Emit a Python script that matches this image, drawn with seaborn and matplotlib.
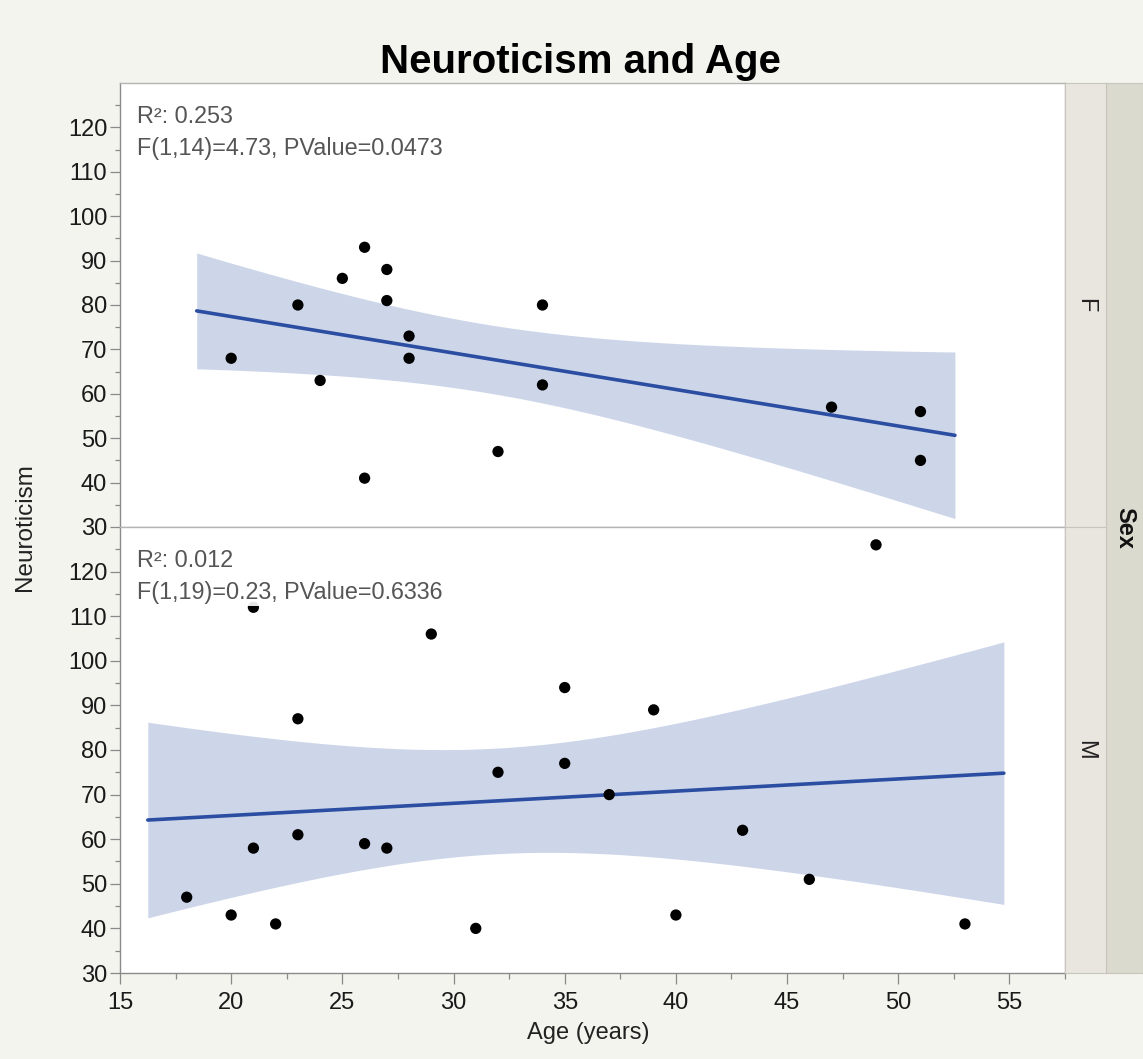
import numpy as np
import pandas as pd
import matplotlib
matplotlib.use("Agg")
import matplotlib.pyplot as plt
import seaborn as sns

# values
female_age = [20, 23, 24, 25, 26, 26, 27, 27, 28, 28, 32, 34, 34, 47, 51, 51]
female_neuro = [68, 80, 63, 86, 93, 41, 88, 81, 73, 68, 47, 80, 62, 57, 56, 45]
male_age = [18, 20, 21, 21, 22, 23, 23, 26, 27, 29, 31, 32, 35, 35, 37, 39, 40, 43, 46, 49, 53]
male_neuro = [47, 43, 112, 58, 41, 87, 61, 59, 58, 106, 40, 75, 94, 77, 70, 89, 43, 62, 51, 126, 41]

sexes = ["F", "M"]
stats_f = ["R²: 0.253", "F(1,14)=4.73, PValue=0.0473"]
stats_m = ["R²: 0.012", "F(1,19)=0.23, PValue=0.6336"]
t_crit = [2.1448, 2.0930]  # t(0.975) for df 14 and 19

y_ticks = list(range(30, 121, 10))
x_ticks = list(range(15, 56, 5))

df = pd.DataFrame({
    "Age": female_age + male_age,
    "Neuroticism": female_neuro + male_neuro,
    "Sex": ["F"] * len(female_age) + ["M"] * len(male_age),
})

sns.set_style("white")
plt.rcParams["font.family"] = ["Liberation Sans", "DejaVu Sans"]

BG = "#f4f4ee"
BAND = "#cdd6e9"
LINE = "#2b4ea2"
EDGE = "#b4b4b4"
W, H = 1143, 1059


def rect(x0, y0, x1, y1):
    """pixel box (top-left origin) -> figure fraction"""
    return [x0 / W, 1 - y1 / H, (x1 - x0) / W, (y1 - y0) / H]


def fit_band(x, y, t):
    """linear fit with the confidence band of the mean, padded 5% like JMP"""
    x = np.asarray(x, float)
    y = np.asarray(y, float)
    n = len(x)
    slope, icpt = np.polyfit(x, y, 1)
    pad = 0.05 * (x.max() - x.min())
    grid = np.linspace(x.min() - pad, x.max() + pad, 200)
    pred = icpt + slope * grid
    s = np.sqrt(np.sum((y - (icpt + slope * x)) ** 2) / (n - 2))
    sxx = np.sum((x - x.mean()) ** 2)
    half = t * s * np.sqrt(1 / n + (grid - x.mean()) ** 2 / sxx)
    return grid, pred, pred - half, pred + half


fig = plt.figure(figsize=(W / 100, H / 100), dpi=100, facecolor=BG)

panel_px = [(83, 527), (527, 973)]
ax_f = fig.add_axes(rect(120, 83, 1065, 527))
ax_m = fig.add_axes(rect(120, 527, 1065, 973), sharex=ax_f)
axes = [ax_f, ax_m]

for ax, sex, stats, t, (top, bottom) in zip(axes, sexes, [stats_f, stats_m], t_crit, panel_px):
    sub = df[df["Sex"] == sex]
    grid, pred, lo, hi = fit_band(sub["Age"], sub["Neuroticism"], t)
    ax.set_facecolor("white")
    ax.fill_between(grid, lo, hi, color=BAND, lw=0, zorder=1)
    sns.lineplot(x=grid, y=pred, ax=ax, color=LINE, lw=2.6, zorder=2)
    sns.scatterplot(data=sub, x="Age", y="Neuroticism", ax=ax, color="black",
                    s=66, edgecolor="none", zorder=3)
    ax.set_xlim(15, 57.5)
    ax.set_ylim(30, 130)
    ax.set_yticks(y_ticks)
    ax.set_yticks(np.arange(35, 126, 10), minor=True)
    ax.set_xlabel("")
    ax.set_ylabel("")
    ax.tick_params(axis="y", which="major", direction="out", length=7.2, width=0.9,
                   color="#8a8a8a", labelsize=17, labelcolor="#1a1a1a", pad=2, left=True)
    ax.tick_params(axis="y", which="minor", direction="out", length=3.6, width=0.9,
                   color="#8a8a8a", left=True)
    for sp in ax.spines.values():
        sp.set_color(EDGE)
        sp.set_linewidth(1.0)
    ax.spines["left"].set_color("#8a8a8a")
    for i, line in enumerate(stats):
        fig.text(137 / W, 1 - (top + 40 + 31.5 * i) / H, line, fontsize=16.8,
                 color="#555555", va="baseline", ha="left", zorder=5,
                 bbox=dict(boxstyle="square,pad=0.12", fc="white", ec="none", alpha=0.9))

ax_f.tick_params(axis="x", which="both", bottom=False, labelbottom=False)
ax_m.set_xticks(x_ticks)
ax_m.set_xticks(np.arange(17.5, 58, 5), minor=True)
ax_m.tick_params(axis="x", which="major", direction="out", length=8, width=0.9,
                 color="#8a8a8a", labelsize=17, labelcolor="#1a1a1a", pad=6, bottom=True)
ax_m.tick_params(axis="x", which="minor", direction="out", length=4.3, width=0.9,
                 color="#8a8a8a", bottom=True)
ax_m.spines["bottom"].set_color("#8a8a8a")

# facet strips on the right
for sex, (top, bottom) in zip(sexes, panel_px):
    sax = fig.add_axes(rect(1065, top, 1106, bottom))
    sax.set_facecolor("#e8e6de")
    sax.set_xticks([])
    sax.set_yticks([])
    for sp in sax.spines.values():
        sp.set_color("#c8c6bc")
    sax.text(0.5, 0.5, sex, rotation=-90, ha="center", va="center", fontsize=17,
             color="#222222", transform=sax.transAxes)

outer = fig.add_axes(rect(1106, 83, 1143, 973))
outer.set_facecolor("#dbdacf")
outer.set_xticks([])
outer.set_yticks([])
for sp in outer.spines.values():
    sp.set_color("#c8c6bc")
outer.text(0.5, 0.5, "Sex", rotation=-90, ha="center", va="center", fontsize=17,
           fontweight="bold", color="#111111", transform=outer.transAxes)

fig.text(580 / W, 1 - 73 / H, "Neuroticism and Age", ha="center", va="baseline",
         fontsize=29, fontweight="bold", color="black")
fig.text(25 / W, 1 - 527 / H, "Neuroticism", rotation=90, ha="center", va="center",
         fontsize=17.5, color="#222222")
fig.text(588 / W, 1 - 1033 / H, "Age (years)", ha="center", va="center",
         fontsize=17, color="#222222")

fig.savefig("out.png", dpi=100, facecolor=BG)
